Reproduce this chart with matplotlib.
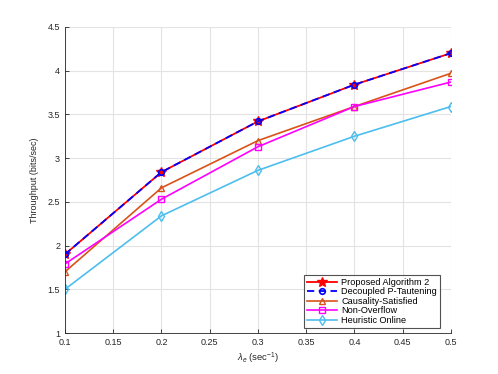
import numpy as np
import matplotlib
matplotlib.use("Agg")
import matplotlib.pyplot as plt

plt.rcParams['font.family'] = ['Liberation Sans', 'DejaVu Sans']
plt.rcParams['mathtext.fontset'] = 'custom'
plt.rcParams['mathtext.rm'] = 'Liberation Sans'
plt.rcParams['mathtext.it'] = 'Liberation Sans:italic'

# data
lam = [0.1, 0.2, 0.3, 0.4, 0.5]
proposed = [1.90, 2.84, 3.42, 3.84, 4.20]
decoupled = [1.90, 2.84, 3.42, 3.84, 4.20]
causality = [1.70, 2.66, 3.20, 3.59, 3.97]
non_overflow = [1.79, 2.53, 3.13, 3.59, 3.87]
heuristic = [1.50, 2.34, 2.86, 3.25, 3.59]

xticks = [0.1, 0.15, 0.2, 0.25, 0.3, 0.35, 0.4, 0.45, 0.5]
xticklabels = ['0.1', '0.15', '0.2', '0.25', '0.3', '0.35', '0.4', '0.45', '0.5']
yticks = [1, 1.5, 2, 2.5, 3, 3.5, 4, 4.5]
yticklabels = ['1', '1.5', '2', '2.5', '3', '3.5', '4', '4.5']

fig = plt.figure(figsize=(4.98, 3.74), dpi=100)
ax = fig.add_axes([0.1305, 0.1096, 0.775, 0.8184])

ax.plot(lam, proposed, color='#FF0000', marker='*', markersize=7, lw=1.3,
        label='Proposed Algorithm 2')
ax.plot(lam, decoupled, color='#0000FF', marker='o', markersize=4, lw=1.3,
        ls='--', dashes=(4, 2.5), mfc='none', mew=1.2, label='Decoupled P-Tautening')
ax.plot(lam, causality, color='#D95319', marker='^', markersize=5, lw=1.2,
        mfc='none', label='Causality-Satisfied')
ax.plot(lam, non_overflow, color='#FF00FF', marker='s', markersize=4, lw=1.2,
        mfc='none', label='Non-Overflow')
ax.plot(lam, heuristic, color='#4DBEEE', marker='d', markersize=5, lw=1.2,
        mfc='none', label='Heuristic Online')

ax.set_xlim(0.1, 0.5)
ax.set_ylim(1, 4.5)
ax.set_xticks(xticks)
ax.set_xticklabels(xticklabels)
ax.set_yticks(yticks)
ax.set_yticklabels(yticklabels)
ax.tick_params(direction='in', labelsize=6.5, length=3, width=0.6, colors='#262626')
ax.grid(True, color='#E3E3E3', lw=0.8)
ax.set_axisbelow(True)
for s in ['top', 'right']:
    ax.spines[s].set_visible(False)
for s in ['left', 'bottom']:
    ax.spines[s].set_color('#262626')
    ax.spines[s].set_linewidth(0.6)

ax.set_xlabel(r'$\lambda_e$ (sec$^{-1}$)', fontsize=6.8, color='#262626', labelpad=3)
ax.set_ylabel('Throughput (bits/sec)', fontsize=6.5, color='#262626', labelpad=6)

leg = ax.legend(loc='lower right', fontsize=6.6, frameon=True, fancybox=False,
                borderpad=0.3, labelspacing=0.05, handlelength=3.3,
                handletextpad=0.4, borderaxespad=0.6,
                bbox_to_anchor=(0.985, 0.0))
leg.get_frame().set_edgecolor('#262626')
leg.get_frame().set_linewidth(0.8)

fig.savefig('out.png', dpi=100)
